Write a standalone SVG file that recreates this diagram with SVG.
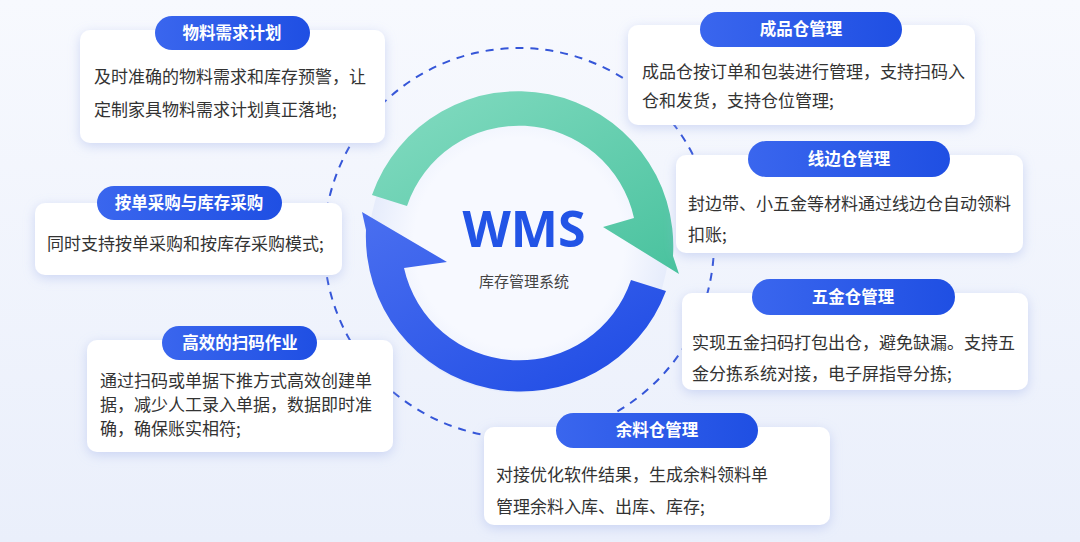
<svg xmlns="http://www.w3.org/2000/svg" width="1080" height="542" viewBox="0 0 1080 542">
<defs>
<linearGradient id="bg" x1="0" y1="0" x2="0" y2="1"><stop offset="0" stop-color="#f7f9fe"/><stop offset="1" stop-color="#eaeffb"/></linearGradient>
<linearGradient id="pill" x1="0" y1="0" x2="1" y2="0"><stop offset="0" stop-color="#3a66ee"/><stop offset="1" stop-color="#1f4fe3"/></linearGradient>
<linearGradient id="grn" x1="0" y1="0" x2="1" y2="1"><stop offset="0" stop-color="#85dcc2"/><stop offset="1" stop-color="#49c29e"/></linearGradient>
<linearGradient id="blu" x1="0" y1="0" x2="1" y2="1"><stop offset="0" stop-color="#4a6ff0"/><stop offset="1" stop-color="#1d4ae4"/></linearGradient>
<radialGradient id="core"><stop offset="0.7" stop-color="#f7f9ff"/><stop offset="1" stop-color="#e6ecfb"/></radialGradient>
<filter id="sh" x="-20%" y="-30%" width="140%" height="160%"><feDropShadow dx="0" dy="3" stdDeviation="6" flood-color="#9fb0e8" flood-opacity="0.45"/></filter>
</defs>
<style>
.card{fill:#fff;filter:url(#sh)}
.pill{fill:url(#pill)}
.t{font-family:"Noto Sans CJK SC","Liberation Sans",sans-serif;font-size:17px;fill:#333}
.h{font-family:"Noto Sans CJK SC","Liberation Sans",sans-serif;font-size:16.5px;font-weight:bold;fill:#fff;text-anchor:middle}
</style>
<rect width="1080" height="542" fill="url(#bg)"/>
<g id="connectors">
<circle cx="519" cy="243" r="195" fill="none" stroke="#3556d8" stroke-width="2" stroke-dasharray="8 7"/>
</g>
<g id="center">
<circle cx="519" cy="243" r="150" fill="url(#core)"/>
<path d="M372,195 A155,155 0 0 1 673,256 L679,274 L603,227 L634,218 A118,118 0 0 0 407,206 Z" fill="url(#grn)"/>
<path d="M666,291 A155,155 0 0 1 366,230 L362,212 L447,262 L404,268 A118,118 0 0 0 631,280 Z" fill="url(#blu)"/>
<text x="524" y="247" text-anchor="middle" font-family="'Open Sans','Liberation Sans',sans-serif" font-weight="bold" font-size="50" fill="#2254e6">WMS</text>
<text x="524" y="287" text-anchor="middle" font-family="'Noto Sans CJK SC',sans-serif" font-size="15" fill="#444">库存管理系统</text>
</g>
<g id="n1"><rect class="card" x="80" y="30" width="305" height="113" rx="10"/><rect class="pill" x="155" y="16" width="155" height="34" rx="17"/><text class="h" x="232" y="39">物料需求计划</text>
<text class="t" x="94" y="83">及时准确的物料需求和库存预警，让</text><text class="t" x="94" y="116">定制家具物料需求计划真正落地;</text></g>
<g id="n2"><rect class="card" x="628" y="25" width="347" height="100" rx="10"/><rect class="pill" x="700" y="12" width="202" height="35" rx="17.5"/><text class="h" x="801" y="35">成品仓管理</text>
<text class="t" x="642" y="78">成品仓按订单和包装进行管理，支持扫码入</text><text class="t" x="642" y="107">仓和发货，支持仓位管理;</text></g>
<g id="n3"><rect class="card" x="676" y="155" width="347" height="98" rx="10"/><rect class="pill" x="748" y="141" width="202" height="36" rx="18"/><text class="h" x="849" y="165">线边仓管理</text>
<text class="t" x="688" y="210">封边带、小五金等材料通过线边仓自动领料</text><text class="t" x="688" y="241">扣账;</text></g>
<g id="n4"><rect class="card" x="682" y="293" width="346" height="97" rx="10"/><rect class="pill" x="752" y="279" width="203" height="36" rx="18"/><text class="h" x="853" y="303">五金仓管理</text>
<text class="t" x="692" y="349">实现五金扫码打包出仓，避免缺漏。支持五</text><text class="t" x="692" y="380">金分拣系统对接，电子屏指导分拣;</text></g>
<g id="n5"><rect class="card" x="484" y="427" width="346" height="98" rx="10"/><rect class="pill" x="556" y="413" width="202" height="35" rx="17.5"/><text class="h" x="657" y="436">余料仓管理</text>
<text class="t" x="496" y="481">对接优化软件结果，生成余料领料单</text><text class="t" x="496" y="513">管理余料入库、出库、库存;</text></g>
<g id="n6"><rect class="card" x="35" y="203" width="307" height="72" rx="10"/><rect class="pill" x="97" y="186" width="185" height="34" rx="17"/><text class="h" x="189" y="209">按单采购与库存采购</text>
<text class="t" x="47" y="250">同时支持按单采购和按库存采购模式;</text></g>
<g id="n7"><rect class="card" x="87" y="340" width="306" height="112" rx="10"/><rect class="pill" x="162" y="326" width="155" height="34" rx="17"/><text class="h" x="240" y="349">高效的扫码作业</text>
<text class="t" x="100" y="387">通过扫码或单据下推方式高效创建单</text><text class="t" x="100" y="411">据，减少人工录入单据，数据即时准</text><text class="t" x="100" y="435">确，确保账实相符;</text></g>
</svg>
